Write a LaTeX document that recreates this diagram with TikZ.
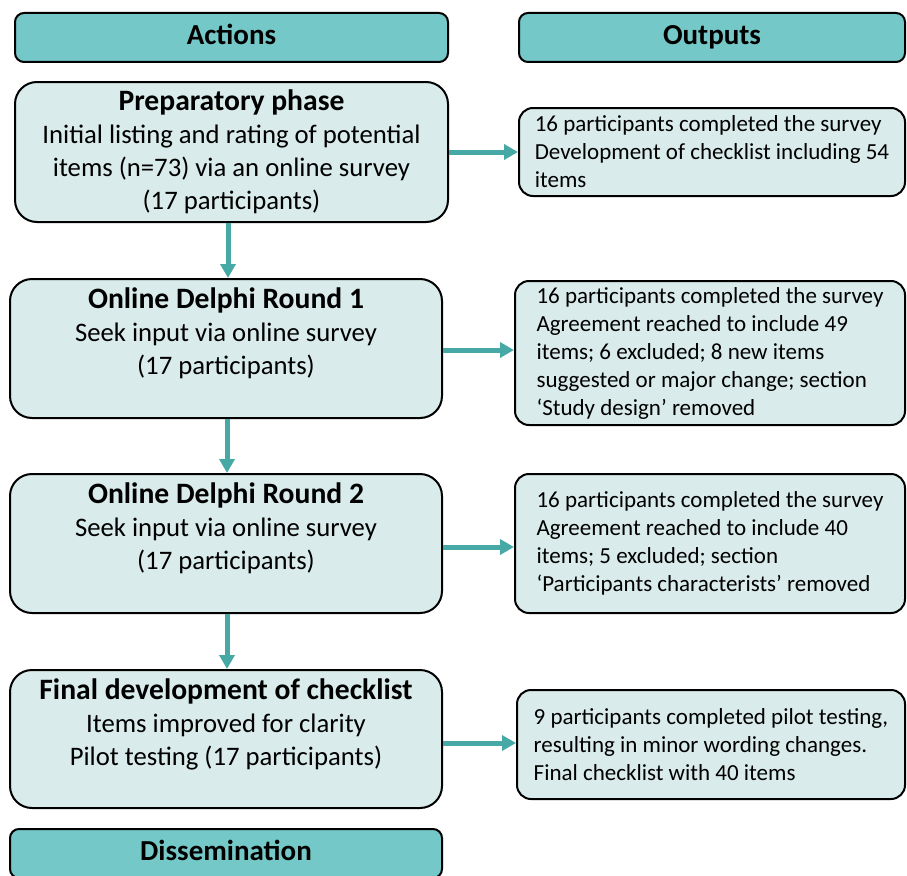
\documentclass[tikz,border=0pt]{standalone}
\usepackage{fontspec}
\setmainfont{Carlito}
\usetikzlibrary{arrows.meta,positioning,calc}
\definecolor{headteal}{HTML}{74C8C7}
\definecolor{boxteal}{HTML}{D9EBEA}
\definecolor{arrteal}{HTML}{47A9A6}
\newcommand{\phasetitle}[1]{{\bfseries\fontsize{29.6}{34}\selectfont #1}}

\begin{document}
\begin{tikzpicture}[x=1pt,y=-1pt,
  head/.style={draw,line width=2pt,fill=headteal,rounded corners=9pt,minimum height=49,text height=20pt,text depth=6pt,font=\bfseries\fontsize{29}{34}\selectfont},
  act/.style={draw,line width=2pt,fill=boxteal,rounded corners=22pt,minimum width=432,align=center,font=\fontsize{26.7}{33}\selectfont},
  outbox/.style={draw,line width=2pt,fill=boxteal,rounded corners=14pt,align=left,font=\fontsize{23}{28}\selectfont},
  flow/.style={arrteal,line width=5pt,-{Triangle[length=14pt,width=15pt]}}]
\useasboundingbox (0,0) rectangle (907,875);

% headers
\node[head,minimum width=433] (actions) at (231.5,37.5) {Actions};
\node[head,minimum width=386] (outputs) at (712,37.5) {Outputs};

% action column
\node[act,minimum width=433,minimum height=140] (prep) at (231.5,152)
  {\phasetitle{Preparatory phase}\\Initial listing and rating of potential\\items (n=73) via an online survey\\(17 participants)};
\node[act,minimum height=139,text depth=34pt] (round1) at (226,348.5)
  {\phasetitle{Online Delphi Round 1}\\Seek input via online survey\\(17 participants)};
\node[act,minimum height=139,text depth=34pt] (round2) at (226,543.5)
  {\phasetitle{Online Delphi Round 2}\\Seek input via online survey\\(17 participants)};
\node[act,minimum height=138,text depth=34pt] (final) at (226,739)
  {\phasetitle{Final development of checklist}\\Items improved for clarity\\Pilot testing (17 participants)};
\node[head,minimum width=432] (dissem) at (226,853.5) {Dissemination};

% output column
\node[outbox,minimum width=386,minimum height=88] (out1) at (712,152)
  {16 participants completed the survey\\Development of checklist including 54\\items};
\node[outbox,minimum width=390,minimum height=144] (out2) at (710,353)
  {16 participants completed the survey\\Agreement reached to include 49\\items; 6 excluded; 8 new items\\suggested or major change; section\\‘Study design’ removed};
\node[outbox,minimum width=390,minimum height=139] (out3) at (710,543.5)
  {16 participants completed the survey\\Agreement reached to include 40\\items; 5 excluded; section\\‘Participants characterists’ removed};
\node[outbox,minimum width=388,minimum height=109] (out4) at (711,744.5)
  {9 participants completed pilot testing,\\resulting in minor wording changes.\\Final checklist with 40 items};

% arrows
\draw[flow] (prep.east) -- (out1.west);
\draw[flow] (round1.east |- 0,350) -- (out2.west |- 0,350);
\draw[flow] (round2.east |- 0,547) -- (out3.west |- 0,547);
\draw[flow] (final.east |- 0,743) -- (out4.west |- 0,743);
\draw[flow] (prep.south -| 228,0) -- (round1.north -| 228,0);
\draw[flow] (round1.south -| 227,0) -- (round2.north -| 227,0);
\draw[flow] (round2.south -| 227,0) -- (final.north -| 227,0);
\end{tikzpicture}
\end{document}
